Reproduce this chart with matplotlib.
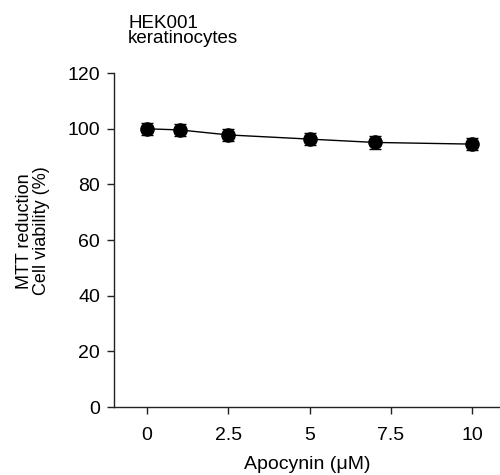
import matplotlib
matplotlib.use("Agg")
import matplotlib.pyplot as plt

plt.rcParams['font.family'] = ['Liberation Sans', 'DejaVu Sans']

# data
apocynin = [0, 1, 2.5, 5, 7, 10]
viability = [100.0, 99.6, 97.8, 96.3, 95.1, 94.5]
err = [2.2, 2.2, 2.2, 2.2, 2.2, 2.2]
xticks = [0, 2.5, 5, 7.5, 10]
xticklabels = ['0', '2.5', '5', '7.5', '10']
yticks = [0, 20, 40, 60, 80, 100, 120]

fig = plt.figure(figsize=(5, 4.75), dpi=100)
ax = fig.add_axes([0.228, 0.143, 0.772, 0.703])

ax.errorbar(apocynin, viability, yerr=err, fmt='-o', color='black',
            markersize=9.5, linewidth=1, elinewidth=1, capsize=4, capthick=1,
            ecolor='black')

ax.set_xlim(-1.02, 10.86)
ax.set_ylim(0, 120)
ax.set_xticks(xticks)
ax.set_xticklabels(xticklabels)
ax.set_yticks(yticks)
ax.spines['top'].set_visible(False)
ax.spines['right'].set_visible(False)
for s in ['left', 'bottom']:
    ax.spines[s].set_linewidth(1)
    ax.spines[s].set_color('#222222')
ax.tick_params(labelsize=14, length=5, width=1, color='#222222', direction='out')
ax.tick_params(axis='x', pad=9)
ax.tick_params(axis='y', pad=5)

ax.set_xlabel('Apocynin (\u03bcM)', fontsize=14, labelpad=9)
ax.set_ylabel('MTT reduction\nCell viability (%)', fontsize=13, va='center',
              linespacing=1.05)
ax.yaxis.set_label_coords(-0.21, 0.527)

fig.text(0.256, 0.969, 'HEK001\nkeratinocytes', fontsize=13.5, ha='left', va='top',
         linespacing=0.85)

fig.savefig('out.png', dpi=100)
